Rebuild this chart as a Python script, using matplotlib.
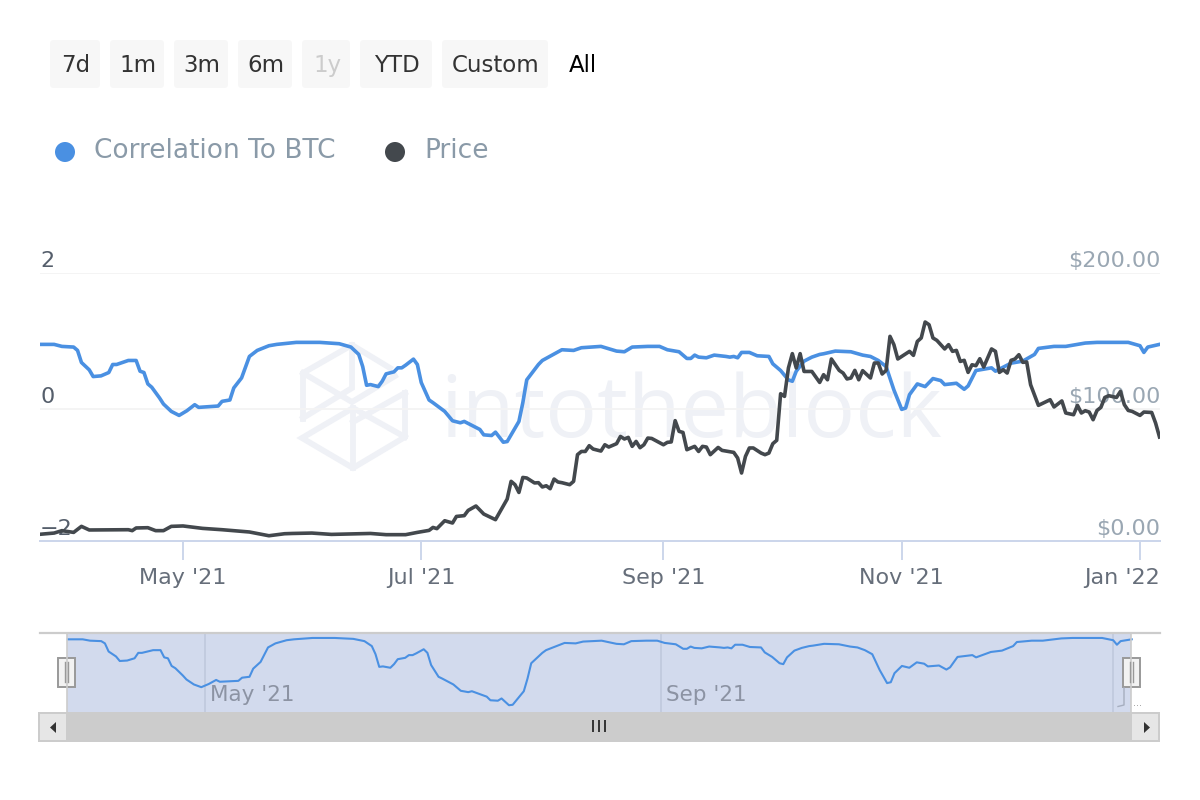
import numpy as np
import matplotlib
matplotlib.use("Agg")
import matplotlib.pyplot as plt
import matplotlib.dates as mdates
from matplotlib.patches import FancyBboxPatch, Rectangle, Circle, Polygon
from matplotlib.transforms import ScaledTranslation

plt.rcParams['font.family'] = ['DejaVu Sans']

BASE_DATE = np.datetime64('2021-05-01')

corr_days = [-37,-33,-31,-28,-27,-26,-24,-23,-21,-19,-18,-17,-14,-12,-11,-10,-9,-8,-6,-5,-3,-1,1,3,4,9,10,12,13,15,17,19,22,24,29,35,40,43,45,46,47,48,50,51,52,54,55,56,57,59,60,61,63,
             64,67,69,71,72,76,77,79,80,82,83,86,87,88,91,92,97,100,102,107,111,113,115,119,122,124,127,129,130,131,132,134,136,139,140,141,142,143,145,147,150,151,153,155,156,157,159,161,163,164,167,171,174,176,178,180,182,184,185,186,188,190,192,194,195,198,200,201,203,207,208,212,215,218,219,223,226,231,234,242,245,246,247,250]
corr_values = [.93,.93,.90,.89,.84,.66,.55,.45,.46,.51,.63,.63,.69,.69,.53,.51,.34,.29,.13,.04,-.07,-.13,-.06,.03,-.01,.01,.08,.10,.28,.43,.75,.84,.91,.93,.96,.96,.94,.89,.78,.60,.32,.33,.30,.38,.49,.52,.58,.58,.62,.71,.63,.36,.10,
               .06,-.07,-.21,-.24,-.22,-.34,-.42,-.43,-.38,-.53,-.52,-.22,.06,.40,.63,.69,.85,.84,.88,.90,.83,.82,.89,.90,.90,.85,.82,.72,.72,.77,.74,.73,.77,.75,.74,.75,.73,.81,.81,.76,.75,.64,.54,.40,.38,.53,.68,.74,.78,.79,.83,.82,.77,.75,.69,.60,.25,-.04,-.02,.18,.34,.30,.42,.39,.33,.35,.26,.31,.54,.58,.53,.65,.68,.78,.87,.90,.90,.95,.96,.96,.91,.81,.89,.93]

price_days = [-37,-33,-31,-28,-26,-24,-14,-13,-12,-9,-7,-5,-3,0,5,10,17,22,26,28,33,38,48,52,57,60,63,64,65,67,69,70,72,73,75,77,80,83,84,85,86,87,88,90,91,92,93,94,95,96,97,99,100,
              101,102,103,104,105,107,108,109,111,112,113,114,115,116,117,118,119,120,123,124,125,126,127,128,129,131,132,133,134,135,137,138,141,142,143,144,145,146,148,149,150,151,152,
              153,154,155,156,157,158,159,161,163,164,165,166,168,169,170,171,172,173,174,176,177,178,179,180,181,182,183,186,187,188,189,190,191,192,193,195,196,197,198,199,200,201,202,203,204,205,207,208,209,210,211,212,213,214,215,216,217,219,222,223,225,226,228,229,230,231,232,233,234,235,236,237,239,240,241,242,243,245,246,248,249,250]
price_values = [4.7,5.7,7.5,6.2,10.7,8.0,8.2,7.5,9.5,9.7,7.5,7.5,10.7,11.0,9.2,8.2,6.5,3.7,5.2,5.4,5.7,4.7,5.4,4.5,4.5,6.2,7.7,9.9,9.0,14.9,13.2,18.1,18.7,22.6,25.9,19.9,15.7,31.1,44.3,41.8,36.0,47.2,46.8,43.1,43.3,40.1,41.0,38.8,46.0,43.8,43.3,41.8,44.3,
                64.2,66.6,66.6,70.9,68.4,66.9,71.6,69.9,72.4,77.8,75.9,77.1,70.4,74.1,69.4,71.6,76.6,76.3,71.6,73.4,73.7,89.6,81.6,80.8,67.9,70.4,66.6,70.4,69.9,64.2,69.6,67.4,65.9,61.7,50.5,62.9,69.2,69.2,65.4,64.2,65.4,72.4,74.9,
                109.7,107.7,128.9,139.6,128.9,139.6,126.3,126.3,118.1,123.9,120.1,135.6,127.1,125.1,120.7,121.4,127.1,120.1,126.9,121.4,132.6,132.6,124.4,127.1,152.5,146.3,135.6,141.3,138.3,148.7,151.3,163.2,161.2,151.3,149.5,143.1,146.3,141.3,142.0,133.8,134.6,125.6,131.3,130.6,135.8,129.6,143.1,141.3,125.6,127.6,125.1,134.6,135.6,138.8,133.1,133.4,116.4,101.0,105.2,99.8,104.3,95.3,94.0,101.0,95.3,97.0,96.0,90.3,97.2,99.5,106.9,108.2,106.9,111.4,101.5,97.2,96.5,93.5,96.0,95.7,87.8,77.4]

series_names = ["Correlation To BTC", "Price"]
range_buttons = ["7d", "1m", "3m", "6m", "1y", "YTD", "Custom"]
month_ticks = ['2021-05-01', '2021-07-01', '2021-09-01', '2021-11-01', '2022-01-01']
month_labels = ["May '21", "Jul '21", "Sep '21", "Nov '21", "Jan '22"]
nav_ticks = ['2021-05-01', '2021-09-01', '2022-01-01']
nav_labels = ["May '21", "Sep '21"]
left_ticks = [-2, -0.03, 2]
left_labels = ["\u22122", "0", "2"]
right_ticks = [0, 98.5, 200]
right_labels = ["$0.00", "$100.00", "$200.00"]

BLUE = '#4a90e2'
DARK = '#43484d'
W, H = 1200, 800


def to_dates(days):
    return BASE_DATE + np.array(days, dtype='timedelta64[D]')


def box(x0, y0, x1, y1):
    return [x0 / W, 1 - y1 / H, (x1 - x0) / W, (y1 - y0) / H]


def day_limit(px, anchor, scale):
    return mdates.date2num(BASE_DATE) + (px - anchor) / scale


fig = plt.figure(figsize=(12, 8), dpi=100, facecolor='white')

# page furniture below the plots
bg = fig.add_axes([0, 0, 1, 1], zorder=0)
bg.set_xlim(0, W)
bg.set_ylim(H, 0)
bg.axis('off')

button_spans = [(50, 100), (110, 164), (174, 228), (238, 292), (302, 350), (360, 432), (442, 548)]
for name, (x0, x1) in zip(range_buttons, button_spans):
    bg.add_patch(FancyBboxPatch((x0 + 3, 43), x1 - x0 - 6, 42, boxstyle='round,pad=0,rounding_size=0',
                                mutation_aspect=1, fc='#f7f7f7', ec='#f7f7f7', lw=4.2, joinstyle='round'))
    bg.text((x0 + x1) / 2 + 1, 65.5, name, ha='center', va='center', fontsize=16.5,
            color='#cccccc' if name == '1y' else '#333333')
bg.text(583, 65.5, 'All', ha='center', va='center', fontsize=16.5, color='black')

bg.add_patch(Circle((65, 152), 10, fc=BLUE, ec='none'))
bg.add_patch(Circle((395, 152), 10, fc=DARK, ec='none'))
bg.text(94, 150.5, series_names[0], ha='left', va='center', fontsize=19, color='#8a9aa8')
bg.text(424, 150.5, series_names[1], ha='left', va='center', fontsize=19, color='#8a9aa8')

# watermark
wm = '#eff1f6'
logo_paths = [[(303, 419), (303, 373), (352, 345), (390, 368)],
              [(303, 373), (352, 402), (395, 376)],
              [(352, 345), (352, 388), (303, 418)],
              [(405, 393), (405, 437), (353, 468), (302, 438), (353, 408), (405, 437)],
              [(405, 393), (353, 422)],
              [(353, 408), (353, 468)]]
for path in logo_paths:
    xs, ys = zip(*path)
    bg.plot(xs, ys, color=wm, lw=4.2, solid_joinstyle='miter', zorder=1)
bg.text(440, 437, 'intotheblock', ha='left', va='baseline', fontsize=62, color=wm,
        family='Open Sans', zorder=1)

# selection band of the navigator
bg.add_patch(Rectangle((67, 633), 1064, 79, fc='#d2daed', ec='none'))

# main chart
ax = fig.add_axes(box(40, 272.7, 1160, 540.7), zorder=2)
ax.patch.set_alpha(0)
ax2 = ax.twinx()
ax2.patch.set_alpha(0)
ax.plot(to_dates(corr_days), corr_values, color=BLUE, lw=2.6, solid_joinstyle='round')
ax2.plot(to_dates(price_days), price_values, color=DARK, lw=2.6, solid_joinstyle='round')
ax.set_xlim(day_limit(40, 183, 3.906), day_limit(1160, 183, 3.906))
ax.set_ylim(-2, 2)
ax2.set_ylim(0, 200)
ax.set_xticks(mdates.date2num(np.array(month_ticks, dtype='datetime64[D]')))
ax.set_xticklabels(month_labels, fontsize=16, color='#666e7a')
ax.tick_params(axis='x', length=14, width=1.4, color='#ccd6eb', pad=6)
ax.get_xticklabels()[-1].set_transform(ax.get_xticklabels()[-1].get_transform() +
                                       ScaledTranslation(-18 / 100, 0, fig.dpi_scale_trans))
ax.set_yticks(left_ticks)
ax.set_yticklabels(left_labels, fontsize=16, color='#555e6b', ha='left', va='bottom')
ax.tick_params(axis='y', length=0, pad=0)
ax2.set_yticks(right_ticks)
ax2.set_yticklabels(right_labels, fontsize=16, color='#9aa7b3', ha='right', va='bottom')
ax2.tick_params(axis='y', length=0, pad=0)
for lbl in ax.get_yticklabels() + ax2.get_yticklabels():
    lbl.set_transform(lbl.get_transform() + ScaledTranslation(0, 2 / 100, fig.dpi_scale_trans))
for lbl in ax.get_yticklabels():
    lbl.set_transform(lbl.get_transform() + ScaledTranslation(0, 0, fig.dpi_scale_trans))
ax.grid(axis='y', color='#f4f4f4', lw=1.4)
ax.set_axisbelow(True)
for a in (ax, ax2):
    for side in ('top', 'left', 'right'):
        a.spines[side].set_visible(False)
    a.spines['bottom'].set_color('#ccd6eb')
    a.spines['bottom'].set_linewidth(1.4)

# navigator
nav = fig.add_axes(box(40, 633, 1160, 712), zorder=2)
nav.patch.set_alpha(0)
nav.plot(to_dates(corr_days), corr_values, color=BLUE, lw=1.5, solid_joinstyle='round')
nav.set_xlim(day_limit(40, 205, 3.707), day_limit(1160, 205, 3.707))
nav.set_ylim(-.68, 1.07)
nav.set_yticks([])
nav.set_xticks([])
for tick in nav_ticks:
    nav.axvline(mdates.date2num(np.datetime64(tick)), color='#bfc8dd', lw=1.2, zorder=0)
for tick, label in zip(nav_ticks, nav_labels):
    nav.annotate(label, (mdates.date2num(np.datetime64(tick)), 0), xycoords=('data', 'axes fraction'),
                 xytext=(5, 7), textcoords='offset pixels', fontsize=15.5, color='#8c93a3', ha='left', va='bottom')
for side in nav.spines:
    nav.spines[side].set_visible(False)

# scrollbar and handles on top
fg = fig.add_axes([0, 0, 1, 1], zorder=3)
fg.set_xlim(0, W)
fg.set_ylim(H, 0)
fg.axis('off')
fg.patch.set_alpha(0)
fg.plot([40, 1160], [632.5, 632.5], color='#cccccc', lw=1.6)
fg.plot([67, 67], [633, 712], color='#cccccc', lw=1.2)
fg.plot([1131, 1131], [633, 712], color='#cccccc', lw=1.2)
fg.add_patch(Rectangle((38, 712), 1122, 30, fc='#cccccc', ec='none'))
for x0 in (40, 1132):
    fg.add_patch(Rectangle((x0, 714), 26, 26, fc='#e6e6e6', ec='none'))
fg.add_patch(Polygon([(56, 722), (50, 727.5), (56, 733)], fc='#333333', ec='none'))
fg.add_patch(Polygon([(1144, 722), (1150, 727.5), (1144, 733)], fc='#333333', ec='none'))
for x in (592.5, 598.5, 605):
    fg.plot([x, x], [720, 732], color='#333333', lw=1.4, solid_capstyle='butt')
for x0 in (57.5, 1122.5):
    fg.add_patch(Rectangle((x0, 657.5), 17, 29, fc='#f2f2f2', ec='#999999', lw=1.4))
    for dx in (7, 10.5):
        fg.plot([x0 + dx, x0 + dx], [662, 682], color='#999999', lw=1)
fg.plot([1124, 1124, 1118], [688, 705, 706.5], color='#a6aebf', lw=1)
fg.text(1138, 703, '...', ha='center', va='center', fontsize=7, color='#999999')
fg.set_xlim(0, W)
fg.set_ylim(H, 0)

fig.savefig('out.png', dpi=100)
